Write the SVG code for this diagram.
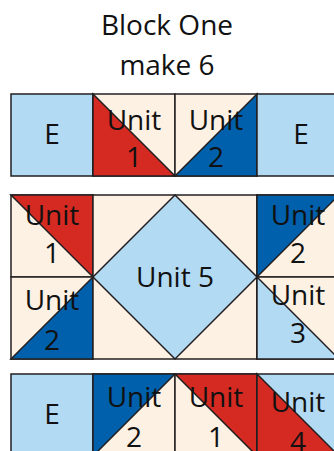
<svg xmlns="http://www.w3.org/2000/svg" width="334" height="451" viewBox="0 0 334 451">
<style>
.s{stroke:#231f20;stroke-width:1.5;stroke-linejoin:miter}
.lb{fill:#b3daf3}
.rd{fill:#d52a22}
.bl{fill:#0060ab}
.cr{fill:#fdf1e4}
text{font-family:"Open Sans","Noto Sans",sans-serif;font-size:28px;fill:#111;text-anchor:middle}
</style>
<rect width="334" height="451" fill="#fff"/>
<g id="title">
<text x="167" y="35">Block One</text>
<text x="167" y="75">make 6</text>
</g>
<g id="row1">
<g id="r1c1"><rect class="s lb" x="11" y="94" width="82" height="82"/><text x="52" y="144">E</text></g>
<g id="r1c2"><rect class="s cr" x="93" y="94" width="82" height="82"/><polygon class="s rd" points="93,94 175,176 93,176"/><text x="134" y="130">Unit</text><text x="134" y="167">1</text></g>
<g id="r1c3"><rect class="s cr" x="175" y="94" width="82" height="82"/><polygon class="s bl" points="257,94 257,176 175,176"/><text x="216" y="130">Unit</text><text x="216" y="167">2</text></g>
<g id="r1c4"><rect class="s lb" x="257" y="94" width="82" height="82"/><text x="301" y="144">E</text></g>
</g>
<g id="row2">
<g id="r2c1a"><rect class="s cr" x="11" y="195" width="82" height="82"/><polygon class="s rd" points="11,195 93,195 93,277"/><text x="52" y="225">Unit</text><text x="52" y="263">1</text></g>
<g id="r2c1b"><rect class="s cr" x="11" y="277" width="82" height="82"/><polygon class="s bl" points="93,277 93,359 11,359"/><text x="52" y="310">Unit</text><text x="52" y="350">2</text></g>
<g id="unit5"><rect class="s cr" x="93" y="195" width="164" height="164"/><polygon class="s lb" points="175,195 257,277 175,359 93,277"/><text x="175" y="287">Unit 5</text></g>
<g id="r2c4a"><rect class="s cr" x="257" y="195" width="82" height="82"/><polygon class="s bl" points="257,195 339,195 257,277"/><text x="298" y="225">Unit</text><text x="298" y="263">2</text></g>
<g id="r2c4b"><rect class="s cr" x="257" y="277" width="82" height="82"/><polygon class="s lb" points="257,277 339,359 257,359"/><text x="298" y="305">Unit</text><text x="298" y="343">3</text></g>
</g>
<g id="row3">
<g id="r3c1"><rect class="s lb" x="11" y="374" width="82" height="82"/><text x="52" y="424">E</text></g>
<g id="r3c2"><rect class="s cr" x="93" y="374" width="82" height="82"/><polygon class="s bl" points="93,374 175,374 93,456"/><text x="134" y="407">Unit</text><text x="134" y="447">2</text></g>
<g id="r3c3"><rect class="s cr" x="175" y="374" width="82" height="82"/><polygon class="s rd" points="175,374 257,374 257,456"/><text x="216" y="407">Unit</text><text x="216" y="447">1</text></g>
<g id="r3c4"><rect class="s lb" x="257" y="374" width="82" height="82"/><polygon class="s rd" points="257,374 339,456 257,456"/><text x="298" y="412">Unit</text><text x="298" y="452">4</text></g>
</g>
</svg>
